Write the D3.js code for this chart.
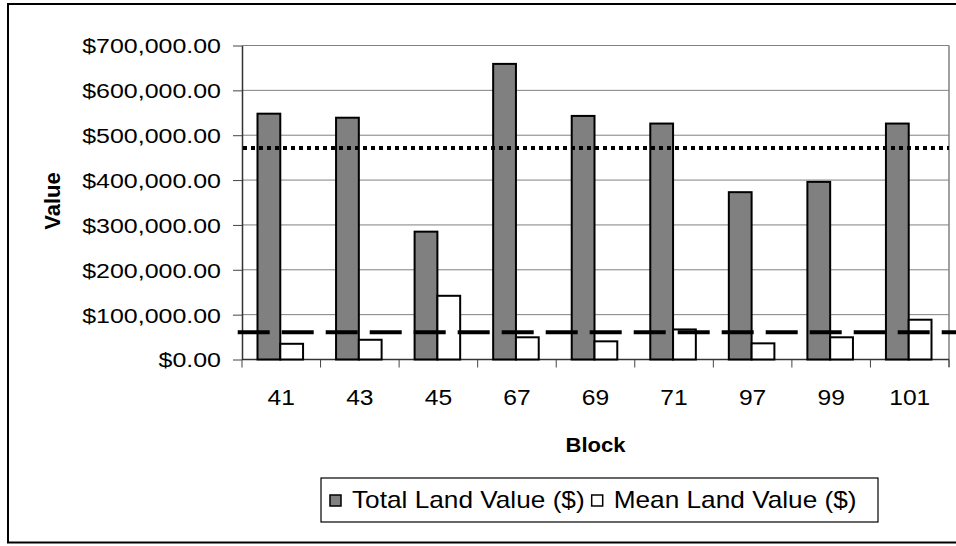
<!DOCTYPE html>
<html>
<head>
<meta charset="utf-8">
<script src="https://cdn.jsdelivr.net/npm/d3@7"></script>
<style>
  html, body { margin: 0; padding: 0; background: #fff; }
  svg { display: block; font-family: "Liberation Sans", Arial, sans-serif; }
</style>
</head>
<body>
<svg id="chart" width="956" height="546"></svg>
<script>
// Land values per city block
const blocks = ["41", "43", "45", "67", "69", "71", "97", "99", "101"];
const totalLandValue = [548000, 539000, 285000, 659000, 543000, 526000, 373000, 396000, 526000];
const meanLandValue = [35000, 44000, 142000, 49500, 40500, 67000, 36000, 49500, 88700];
const seriesNames = ["Total Land Value ($)", "Mean Land Value ($)"];
const yTicks = [0, 100000, 200000, 300000, 400000, 500000, 600000, 700000];
// Reference levels drawn across the plot
const totalReference = 471500;   // dotted line
const meanReference = 60600;     // dashed line

const svg = d3.select("#chart");
const W = 956, H = 546;
const plot = { left: 242, right: 949, top: 45.5, bottom: 359.5 };

svg.append("rect").attr("width", W).attr("height", H).attr("fill", "#fff");

// outer chart frame
svg.append("rect")
  .attr("x", 8).attr("y", 4).attr("width", 980).attr("height", 538.5)
  .attr("fill", "none").attr("stroke", "#000").attr("stroke-width", 2);

const x = d3.scaleBand().domain(blocks).range([plot.left, plot.right]).paddingInner(0).paddingOuter(0);
const y = d3.scaleLinear().domain([0, 700000]).range([plot.bottom, plot.top]);
const barW = x.bandwidth() * 0.29;
const pairOffset = (x.bandwidth() - 2 * barW) / 2 - 1;

// gridlines
svg.append("g").selectAll("line").data(yTicks).join("line")
  .attr("x1", plot.left).attr("x2", plot.right)
  .attr("y1", d => y(d)).attr("y2", d => y(d))
  .attr("stroke", "#808080").attr("stroke-width", 1);

// right edge of plot area
svg.append("line")
  .attr("x1", plot.right).attr("x2", plot.right)
  .attr("y1", plot.top).attr("y2", plot.bottom + 7.5)
  .attr("stroke", "#808080").attr("stroke-width", 1.5);

// y axis
const tickSX = 1.2;
const yAxis = d3.axisLeft(y).tickValues(yTicks).tickSize(9).tickSizeOuter(0)
  .tickFormat(d3.format("$,.2f"));
const gy = svg.append("g").attr("transform", `translate(${plot.left},0)`).call(yAxis);
gy.select(".domain").attr("stroke", "#333").attr("stroke-width", 1.5);
gy.selectAll(".tick line").attr("stroke", "#444");
gy.selectAll(".tick text")
  .attr("font-size", 20.8).attr("fill", "#000")
  .attr("x", -21 / tickSX).attr("dy", "0.36em")
  .attr("transform", `scale(${tickSX},1)`)
  .style("font-family", "'Liberation Sans', Arial, sans-serif");

// x axis baseline and category boundary ticks
svg.append("line")
  .attr("x1", plot.left).attr("x2", plot.right)
  .attr("y1", plot.bottom).attr("y2", plot.bottom)
  .attr("stroke", "#333").attr("stroke-width", 1.5);
const bounds = blocks.map(b => x(b)).concat([plot.right]);
svg.append("g").selectAll("line").data(bounds).join("line")
  .attr("x1", d => d).attr("x2", d => d)
  .attr("y1", plot.bottom).attr("y2", plot.bottom + 8)
  .attr("stroke", "#444").attr("stroke-width", 1);

// category labels
svg.append("g").selectAll("g").data(blocks).join("g")
  .attr("transform", d => `translate(${x(d) + x.bandwidth() / 2},405) scale(1.12,1)`)
  .append("text")
  .attr("text-anchor", "middle").attr("font-size", 22).attr("fill", "#000")
  .text(d => d);

// bars
const bars = svg.append("g");
bars.selectAll("rect.total").data(blocks).join("rect").attr("class", "total")
  .attr("x", (d) => x(d) + pairOffset)
  .attr("y", (d, i) => y(totalLandValue[i]))
  .attr("width", barW)
  .attr("height", (d, i) => y(0) - y(totalLandValue[i]))
  .attr("fill", "#808080").attr("stroke", "#000").attr("stroke-width", 2);
bars.selectAll("rect.mean").data(blocks).join("rect").attr("class", "mean")
  .attr("x", (d) => x(d) + pairOffset + barW)
  .attr("y", (d, i) => y(meanLandValue[i]))
  .attr("width", barW)
  .attr("height", (d, i) => y(0) - y(meanLandValue[i]))
  .attr("fill", "#fff").attr("stroke", "#000").attr("stroke-width", 2);

// reference lines
svg.append("line")
  .attr("x1", 243).attr("x2", plot.right)
  .attr("y1", y(totalReference)).attr("y2", y(totalReference))
  .attr("stroke", "#000").attr("stroke-width", 4).attr("stroke-dasharray", "4,4");
svg.append("line")
  .attr("x1", 237.7).attr("x2", W + 10)
  .attr("y1", y(meanReference)).attr("y2", y(meanReference))
  .attr("stroke", "#000").attr("stroke-width", 4).attr("stroke-dasharray", "32,12");

// axis titles
svg.append("g").attr("transform", `translate(${(plot.left + plot.right) / 2},452) scale(1.05,1)`)
  .append("text").attr("text-anchor", "middle").attr("font-size", 21)
  .attr("font-weight", "bold").text("Block");
svg.append("text")
  .attr("transform", "translate(60,201) rotate(-90)")
  .attr("text-anchor", "middle").attr("font-size", 22).attr("font-weight", "bold")
  .text("Value");

// legend
const legend = svg.append("g");
legend.append("rect")
  .attr("x", 321).attr("y", 478).attr("width", 557).attr("height", 44)
  .attr("fill", "#fff").attr("stroke", "#000").attr("stroke-width", 1.2);
const fills = ["#808080", "#fff"];
const legSX = 1.14;
let lx = 330;
seriesNames.forEach((name, i) => {
  legend.append("rect")
    .attr("x", lx).attr("y", 495).attr("width", 11).attr("height", 11)
    .attr("fill", fills[i]).attr("stroke", "#000").attr("stroke-width", 1.5);
  const g = legend.append("g").attr("transform", `translate(${lx + 22},508) scale(${legSX},1)`);
  const t = g.append("text").attr("font-size", 23).attr("fill", "#000").text(name);
  lx += 22 + t.node().getComputedTextLength() * legSX + 7;
});
</script>
</body>
</html>
